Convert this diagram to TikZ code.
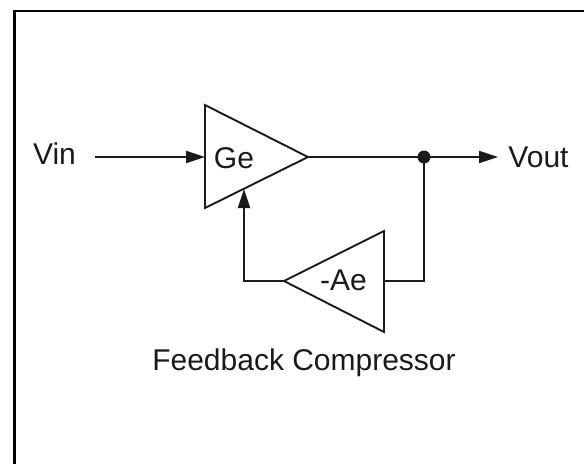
\documentclass[tikz,border=0pt]{standalone}
\usepackage{fontspec}
\setmainfont{Liberation Sans}
\usetikzlibrary{arrows.meta}
\definecolor{schemink}{HTML}{1A1A1A}

\begin{document}
\begin{tikzpicture}[
  x=1pt,
  y=-1pt,
  every node/.style={font=\fontsize{30}{36}\selectfont, text=schemink, inner sep=0pt, anchor=base},
  wire/.style={schemink, line width=1.9pt},
  flow/.style={wire, -{Triangle[length=19pt,width=12pt]}}
]
  \useasboundingbox (0,0) rectangle (584,464);

  % Outer frame: only top and left edges fall inside the page
  \draw[black, line width=2.6pt] (14.5,464) -- (14.5,11) -- (584,11);

  % Forward gain block
  \coordinate (gaintop) at (205,105);
  \coordinate (gainbot) at (205,208);
  \coordinate (gaintip) at (308,157);
  \coordinate (gainin) at (205,157);
  \coordinate (gainfb) at (244,189);
  \draw[wire, line join=miter] (gaintop) -- (gaintip) -- (gainbot) -- cycle;
  \node (gainlabel) at (234,168.5) {Ge};

  % Feedback block
  \coordinate (fbtop) at (384,231);
  \coordinate (fbbot) at (384,332);
  \coordinate (fbtip) at (284,281);
  \coordinate (fbin) at (384,281);
  \draw[wire, line join=miter] (fbtop) -- (fbtip) -- (fbbot) -- cycle;
  \node (fblabel) at (343.5,290.5) {-Ae};

  % Input, output and loop
  \node (vin) at (54.5,164.5) {Vin};
  \node (vout) at (538.5,167.5) {Vout};
  \node (caption) at (304,370) {Feedback Compressor};
  \coordinate (instart) at (95,157);
  \coordinate (outend) at (498,157);
  \coordinate (loopleft) at (244,281);
  \coordinate (loopright) at (424,281);
  \node[circle, fill=schemink, minimum size=13pt, anchor=center] (junction) at (424,157) {};

  \draw[flow] (instart) -- (gainin);
  \draw[wire] (gaintip) -- (junction.center);
  \draw[flow] (junction.center) -- (outend);
  \draw[wire] (junction.center) -- (loopright) -- (fbin);
  \draw[flow] (fbtip) -- (loopleft) -- (gainfb);
\end{tikzpicture}
\end{document}
